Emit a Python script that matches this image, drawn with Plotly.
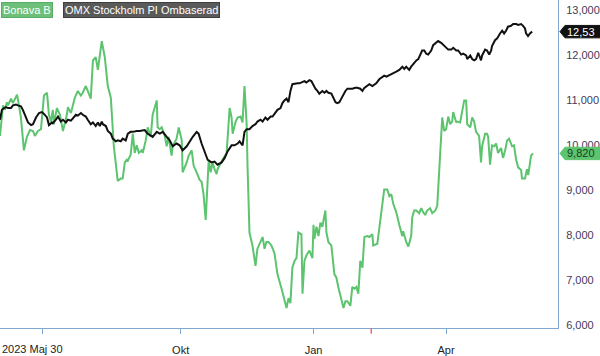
import plotly.graph_objects as go

# Trading-day index (x) and values for each series
bonava_x = [0, 0.9, 1.4, 2.3, 3.2, 3.7, 5.1, 6.0, 6.9, 7.9, 8.8, 9.7, 11.1, 12.5, 13.9, 15.3, 16.2, 17.6, 19.0, 19.9,
            20.4, 21.8, 22.7, 23.6, 24.5, 25.0, 26.4, 27.8, 29.2, 31.0, 31.5, 32.9, 33.8, 34.7, 36.1, 37.5, 38.4, 39.8, 40.7, 42.1,
            43.1, 44.4, 45.4, 45.8, 47.2, 48.6, 50.0, 51.4, 52.3, 52.8, 54.6, 56.0, 56.9, 57.9, 58.8, 59.3, 60.6, 61.6, 62.5, 63.4,
            64.4, 65.7, 66.2, 67.6, 68.5, 69.9, 70.8, 72.7, 73.1, 74.1, 75.0, 76.4, 77.3, 78.2, 79.6, 80.1, 81.9, 82.9, 84.3, 84.7,
            86.6, 87.5, 88.9, 89.8, 91.2, 92.6, 93.5, 94.4, 95.4, 96.3, 96.8, 97.7, 98.6, 99.5, 100.5, 100.9, 102.3, 103.2, 105.1, 106.5,
            107.4, 107.9, 109.3, 110.2, 111.6, 112.5, 113.4, 114.4, 114.8, 115.7, 117.1, 118.5, 119.4, 120.8, 121.8, 122.7, 123.6, 124.5, 125.9, 127.3,
            128.7, 130.6, 131.9, 132.9, 133.8, 134.7, 135.6, 136.6, 137.5, 138.4, 139.8, 140.3, 141.2, 142.1, 143.5, 144.9, 145.4, 145.8, 146.8, 147.7,
            148.6, 149.5, 150.9, 151.4, 152.3, 153.7, 155.1, 156.0, 156.9, 158.3, 159.3, 160.2, 161.1, 162.5, 163.4, 164.4, 165.3, 166.2, 167.1, 168.1,
            169.0, 170.4, 171.3, 172.7, 173.1, 175.0, 176.9, 178.2, 179.6, 180.6, 181.5, 182.4, 183.8, 184.3, 185.2, 186.6, 187.0, 188.4, 189.4, 190.7,
            191.2, 192.1, 193.1, 194.4, 195.4, 196.3, 197.2, 198.1, 199.5, 200.5, 201.9, 202.8, 204.2, 205.1, 206.0, 206.9, 207.9, 208.8, 209.7, 210.2,
            211.6, 212.0, 213.4, 214.4, 215.3, 216.2, 216.7, 218.1, 219.0, 219.9, 220.8, 222.2, 223.1, 223.6, 225.0, 225.9, 226.4, 227.3, 228.2, 229.2,
            230.1, 231.0, 232.4, 233.3, 234.3, 235.2, 236.1, 237.5, 238.4, 239.4, 240.3, 241.7, 242.1, 243.5, 244.4, 245.0, 246.3, 247.2]
bonava_v = [10210, 10680, 10890, 10790, 10960, 10890, 11040, 10940, 11040, 11130, 10890, 10620, 9890, 10190, 10340, 10320, 10210, 10320, 10360, 10830,
            11110, 11170, 10680, 10530, 10790, 10470, 10830, 10680, 10320, 10680, 10850, 10720, 10890, 11060, 11210, 11110, 11170, 11320, 11210, 11040,
            11890, 11960, 11680, 11810, 12320, 11960, 11320, 11060, 10470, 9980, 9210, 9260, 9260, 9620, 9680, 9660, 9790, 10260, 9830, 10000,
            9830, 9890, 9830, 10110, 10400, 10190, 10680, 11000, 10400, 10360, 10400, 10210, 9980, 10190, 9770, 9980, 10150, 10400, 10110, 9400,
            9620, 9770, 9890, 9550, 9400, 9230, 9190, 8910, 8340, 9400, 9680, 9400, 9620, 9470, 9360, 9470, 9620, 9680, 9830, 10830,
            10620, 10260, 10530, 10620, 10640, 10510, 11320, 10470, 9550, 8060, 7770, 7320, 7700, 7850, 7960, 7700, 7850, 7850, 7770, 7600,
            7130, 6810, 6530, 6380, 6600, 6490, 7280, 7430, 7490, 8060, 8020, 6700, 7430, 7550, 7660, 7490, 8230, 7920, 8190, 7980,
            8280, 8190, 8550, 8060, 7850, 7770, 7130, 7060, 6850, 6570, 6380, 6530, 6530, 6430, 6850, 6810, 6850, 6700, 7430, 7280,
            7960, 7980, 7960, 8020, 7770, 7810, 8550, 9020, 9020, 8870, 8910, 8700, 8510, 8380, 8230, 7980, 8090, 7850, 7750, 7980,
            8400, 8550, 8550, 8490, 8600, 8510, 8450, 8550, 8600, 8490, 8550, 8660, 9770, 10620, 10320, 10360, 10640, 10470, 10530, 10740,
            10510, 10530, 10510, 10740, 11000, 11000, 10470, 10400, 10620, 10530, 10300, 10210, 9620, 9980, 10260, 10260, 10190, 9570, 10000, 9980,
            10040, 9830, 9940, 9720, 9890, 10110, 10150, 9980, 10000, 9680, 9510, 9450, 9260, 9260, 9470, 9340, 9770, 9820]

omx_x = [0, 0.9, 1.9, 2.8, 3.7, 5.1, 6.0, 7.4, 8.3, 9.7, 10.6, 11.6, 13.0, 14.4, 15.3, 16.7, 18.1, 19.4, 20.4, 21.8,
         22.7, 24.1, 24.5, 25.9, 26.9, 28.2, 29.2, 30.6, 31.5, 32.9, 33.8, 35.2, 36.1, 37.5, 38.4, 39.8, 40.7, 42.1, 43.1, 44.4,
         45.4, 46.3, 47.2, 47.7, 49.1, 50.0, 51.4, 52.3, 53.7, 54.6, 56.0, 56.9, 58.3, 59.3, 60.6, 61.6, 63.4, 64.8, 67.1, 68.5,
         70.8, 72.7, 74.1, 75.5, 77.3, 78.7, 80.1, 81.9, 83.3, 84.7, 86.6, 88.0, 89.4, 91.2, 92.1, 93.5, 94.9, 96.3, 98.1, 99.5,
         100.9, 102.8, 104.2, 105.6, 107.4, 108.8, 110.2, 111.1, 112.5, 113.4, 114.4, 115.7, 117.1, 118.5, 119.4, 120.8, 121.8, 123.1, 124.1, 125.5,
         126.4, 127.8, 128.7, 130.1, 131.0, 131.9, 132.9, 133.8, 134.7, 135.6, 137.0, 138.0, 138.9, 141.2, 142.1, 143.5, 144.4, 145.4, 146.3, 147.2,
         148.1, 149.5, 150.5, 151.4, 152.3, 153.7, 154.6, 155.6, 156.5, 157.4, 158.3, 159.3, 160.2, 161.1, 162.5, 163.4, 164.8, 165.7, 167.1, 168.1,
         169.0, 169.9, 171.3, 172.7, 173.6, 174.5, 175.9, 177.3, 178.2, 179.2, 180.6, 181.9, 182.9, 183.8, 185.2, 186.6, 187.5, 188.4, 189.8, 190.7,
         191.7, 193.1, 194.0, 194.9, 195.8, 196.8, 197.7, 198.6, 200.0, 200.9, 202.3, 203.2, 204.6, 205.6, 206.9, 207.9, 209.3, 210.2, 211.6, 212.5,
         213.9, 214.8, 216.2, 216.7, 218.1, 219.0, 219.9, 220.8, 221.8, 223.1, 223.6, 225.0, 225.9, 226.9, 227.8, 228.2, 229.6, 230.6, 231.9, 232.9,
         233.8, 234.7, 235.6, 237.0, 238.0, 239.4, 240.3, 241.7, 242.6, 243.5, 244.0, 244.9, 245.8, 246.8]
omx_v = [10570, 10790, 10830, 10850, 10830, 10830, 10890, 10910, 10890, 10870, 10790, 10680, 10510, 10450, 10470, 10620, 10720, 10740, 10700, 10620,
         10450, 10510, 10490, 10570, 10640, 10530, 10570, 10510, 10570, 10550, 10600, 10680, 10660, 10720, 10680, 10640, 10570, 10470, 10510, 10430,
         10510, 10430, 10530, 10470, 10430, 10320, 10260, 10150, 10090, 10110, 10090, 10150, 10110, 10260, 10300, 10300, 10320, 10320, 10340, 10260,
         10190, 10300, 10260, 10300, 10190, 10110, 9980, 10040, 10000, 9890, 9980, 10090, 10190, 10300, 10260, 10040, 9870, 9680, 9620, 9640,
         9570, 9620, 9720, 9870, 10000, 10000, 10040, 10090, 10000, 10300, 10360, 10360, 10430, 10470, 10530, 10570, 10530, 10620, 10570, 10640,
         10640, 10740, 10790, 10830, 10940, 11000, 11040, 10960, 11210, 11360, 11380, 11380, 11380, 11430, 11400, 11450, 11430, 11320, 11260, 11210,
         11150, 11210, 11170, 11210, 11170, 11150, 11060, 10960, 10940, 10960, 11040, 11150, 11210, 11260, 11260, 11260, 11280, 11280, 11260, 11210,
         11280, 11320, 11360, 11320, 11360, 11380, 11470, 11530, 11550, 11530, 11570, 11600, 11620, 11640, 11680, 11750, 11700, 11750, 11680, 11750,
         11810, 11890, 11920, 12020, 12110, 12110, 12040, 12020, 12110, 12230, 12280, 12320, 12280, 12230, 12170, 12130, 12130, 12170, 12110, 12110,
         12020, 12040, 12000, 11920, 12000, 11920, 11890, 11920, 12060, 11890, 12000, 12130, 12110, 12020, 12110, 12210, 12340, 12380, 12490, 12550,
         12490, 12550, 12640, 12660, 12700, 12700, 12680, 12700, 12660, 12600, 12490, 12430, 12490, 12530]

series_names = ["Bonava B", "OMX Stockholm PI Ombaserad"]
y_ticks = [6000, 7000, 8000, 9000, 10000, 11000, 12000, 13000]
x_tick_pos = [19.9, 83.8, 145.4, 206.9]
x_tick_text = ["", "Okt", "Jan", "Apr"]
start_label = "2023 Maj 30"
marker_pos = 172.2

GREEN = "#5cc46e"
BLACK = "#111111"
AXIS = "#7ea8cf"
Y_MIN, Y_MAX = 5936, 13234
X_MIN, X_MAX = 0, 258.8
FONT = "Liberation Sans, Arial, sans-serif"

fig = go.Figure()
fig.add_trace(go.Scatter(x=bonava_x, y=bonava_v, mode="lines", name=series_names[0],
                         line=dict(color=GREEN, width=2)))
fig.add_trace(go.Scatter(x=omx_x, y=omx_v, mode="lines", name=series_names[1],
                         line=dict(color=BLACK, width=2)))

fig.update_layout(
    width=600, height=356,
    margin=dict(l=0, r=41, t=0, b=13),
    paper_bgcolor="white", plot_bgcolor="white",
    showlegend=False,
    font=dict(family=FONT, size=11, color="#222222"),
)
fig.update_xaxes(range=[X_MIN, X_MAX], showgrid=False, zeroline=False,
                 showline=True, linecolor=AXIS, linewidth=1,
                 ticks="outside", ticklen=5, tickcolor=AXIS,
                 ticklabelstandoff=7,
                 tickvals=x_tick_pos, ticktext=x_tick_text,
                 tickfont=dict(family=FONT, size=11, color="#222222"))
fig.update_yaxes(range=[Y_MIN, Y_MAX], side="right", showgrid=False, zeroline=False,
                 showline=True, linecolor=AXIS, linewidth=1,
                 ticks="outside", ticklen=5, tickcolor="rgba(0,0,0,0)",
                 tickvals=y_ticks, tickformat=",d",
                 tickfont=dict(family=FONT, size=11, color="#45395a"))

# series name boxes
fig.add_annotation(xref="paper", yref="paper", x=0, y=1, xanchor="left", yanchor="top",
                   xshift=1, yshift=-2, text=series_names[0], showarrow=False,
                   bgcolor="#6cc07a", bordercolor="#58ad68", borderwidth=1, borderpad=1,
                   font=dict(family=FONT, size=11, color="white"))
fig.add_annotation(xref="paper", yref="paper", x=0, y=1, xanchor="left", yanchor="top",
                   xshift=63, yshift=-2, text=series_names[1], showarrow=False,
                   bgcolor="#5a5a5a", bordercolor="#3e3e3e", borderwidth=1, borderpad=1,
                   font=dict(family=FONT, size=11, color="white"))

# start date label
fig.add_annotation(xref="paper", yref="paper", x=0, y=0, xanchor="left", yanchor="top",
                   yshift=-13, text=start_label, showarrow=False,
                   font=dict(family=FONT, size=11, color="#222222"))

# red marker tick on x axis
fig.add_shape(type="line", xref="x", yref="paper", x0=marker_pos, x1=marker_pos,
              y0=0, y1=-6 / 343, line=dict(color="#f06a6a", width=1.5))

# last value tags
plot_w, plot_h = 559.0, 343.0
def tag(value, color, textcolor):
    yp = (value - Y_MIN) / (Y_MAX - Y_MIN)
    hh = 6.5 / plot_h
    x_tip = 1 + 2 / plot_w
    x_base = 1 + 7 / plot_w
    x_end = 1 + 50 / plot_w
    path = (f"M {x_tip},{yp} L {x_base},{yp + hh} L {x_end},{yp + hh} "
            f"L {x_end},{yp - hh} L {x_base},{yp - hh} Z")
    fig.add_shape(type="path", xref="paper", yref="paper", path=path,
                  fillcolor=color, line=dict(color=color, width=1), layer="above")
    label = f"{value:,.0f}"[:5]
    fig.add_annotation(xref="paper", yref="paper", x=1 + 7 / plot_w, y=yp,
                       xanchor="left", yanchor="middle", text=label, showarrow=False,
                       font=dict(family=FONT, size=11, color=textcolor))

tag(omx_v[-1], "#111111", "white")
tag(bonava_v[-1], GREEN, "#1e3a22")

fig.write_html("out.html", config={"displayModeBar": False},
               post_script="document.body.style.margin='0';document.body.style.overflow='hidden';")
